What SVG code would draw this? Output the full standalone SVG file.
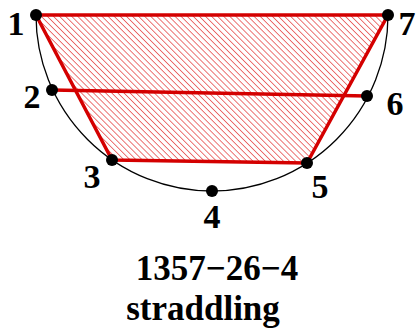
<svg xmlns="http://www.w3.org/2000/svg" width="417" height="332" viewBox="0 0 417 332">
<defs>
<pattern id="hatch" patternUnits="userSpaceOnUse" width="4.3" height="4.3" patternTransform="rotate(-45)">
<line x1="0" y1="0" x2="0" y2="4.3" stroke="#e01818" stroke-width="1.4" stroke-opacity="0.85"/>
</pattern>
</defs>
<style>
.lbl{font-family:"Liberation Serif","Times New Roman",serif;font-weight:bold;font-size:34px;fill:#000}
.cap{font-size:35px}
.chord{stroke:#d40000;stroke-width:3.5;fill:none;stroke-linejoin:round}
.pt{fill:#000}
</style>
<rect width="417" height="332" fill="#fff"/>
<g id="circle"><path d="M36,15 A176,176 0 0 0 388,15" fill="none" stroke="#000" stroke-width="1.3"/></g>
<g id="connectors">
<polygon points="36,15 112,160 307,163 388,15" fill="url(#hatch)"/>
<polygon class="chord" points="36,15 112,160 307,163 388,15"/>
<line class="chord" x1="52" y1="90" x2="367" y2="96"/>
</g>
<g id="n1"><circle class="pt" cx="36" cy="15" r="6"/><text class="lbl" x="16" y="35" text-anchor="middle">1</text></g>
<g id="n2"><circle class="pt" cx="52" cy="90" r="6"/><text class="lbl" x="32" y="108" text-anchor="middle">2</text></g>
<g id="n3"><circle class="pt" cx="112" cy="160" r="6"/><text class="lbl" x="92" y="188" text-anchor="middle">3</text></g>
<g id="n4"><circle class="pt" cx="212" cy="191" r="6"/><text class="lbl" x="212" y="228" text-anchor="middle">4</text></g>
<g id="n5"><circle class="pt" cx="307" cy="163" r="6"/><text class="lbl" x="320" y="198" text-anchor="middle">5</text></g>
<g id="n6"><circle class="pt" cx="367" cy="96" r="6"/><text class="lbl" x="395" y="115" text-anchor="middle">6</text></g>
<g id="n7"><circle class="pt" cx="388" cy="15" r="6"/><text class="lbl" x="407" y="35" text-anchor="middle">7</text></g>
<g id="caption">
<text class="lbl cap" x="217" y="280" text-anchor="middle">1357−26−4</text>
<text class="lbl cap" x="203" y="320" text-anchor="middle">straddling</text>
</g>
</svg>
